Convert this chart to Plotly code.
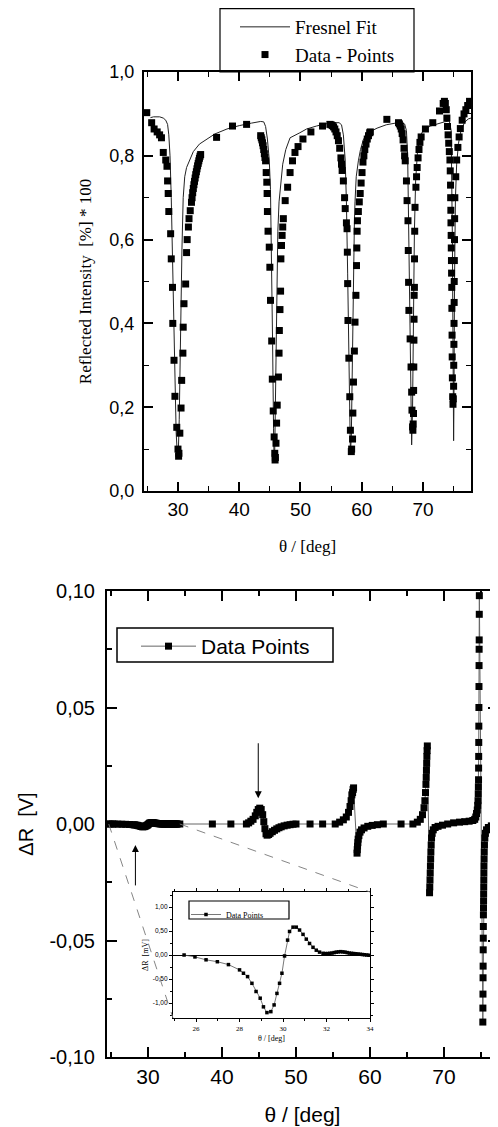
import plotly.graph_objects as go

# ---------------- data: top panel (reflectivity) ----------------
theta_dip1 = [24.9, 25.7, 26.1, 26.6, 27.0, 27.3, 27.6, 28.0, 28.2, 28.3, 28.4, 28.5, 28.8, 28.9, 29.1,
              29.15, 29.35, 29.5, 29.8, 30.0, 30.1, 30.15, 30.3, 30.5, 30.6, 30.8, 30.85, 30.98, 31.25,
              31.4, 31.5, 31.7, 31.8, 32.0, 32.2, 32.3, 32.4, 32.5, 32.6, 32.7, 32.8, 32.9, 33.0, 33.1,
              33.2, 33.3, 33.4, 33.5, 33.6, 33.7]
R_dip1 = [0.903, 0.879, 0.864, 0.857, 0.850, 0.843, 0.808, 0.790, 0.775, 0.740, 0.710, 0.667, 0.614, 0.554,
          0.486, 0.400, 0.312, 0.226, 0.152, 0.100, 0.083, 0.090, 0.138, 0.198, 0.264, 0.329, 0.391, 0.447,
          0.494, 0.569, 0.600, 0.630, 0.650, 0.669, 0.689, 0.700, 0.712, 0.722, 0.731, 0.739, 0.747, 0.755,
          0.762, 0.769, 0.776, 0.782, 0.788, 0.794, 0.799, 0.803]

theta_plateau1 = [36.3, 38.9, 41.2]
R_plateau1 = [0.844, 0.871, 0.875]

theta_dip2 = [43.5, 43.6, 43.7, 43.8, 43.9, 44.0, 44.1, 44.2, 44.3, 44.4, 44.5, 44.55, 44.6, 44.7, 44.9,
              45.0, 45.1, 45.3, 45.4, 45.55, 45.7, 45.8, 45.85, 45.9, 46.0, 46.1, 46.2, 46.4, 46.5, 46.55,
              46.65, 46.75, 46.8, 46.9, 47.0, 47.1, 47.2, 47.5, 47.9, 48.3, 48.7, 49.1, 49.6, 50.4, 51.7, 53.6]
R_dip2 = [0.848, 0.843, 0.838, 0.831, 0.824, 0.815, 0.805, 0.796, 0.788, 0.760, 0.737, 0.710, 0.667, 0.620,
          0.582, 0.534, 0.455, 0.358, 0.267, 0.191, 0.129, 0.090, 0.074, 0.080, 0.114, 0.162, 0.205, 0.272,
          0.329, 0.383, 0.433, 0.477, 0.554, 0.586, 0.610, 0.630, 0.650, 0.693, 0.725, 0.760, 0.788, 0.808,
          0.822, 0.840, 0.857, 0.871]

theta_dip3 = [54.8, 55.0, 55.2, 55.4, 55.6, 55.8, 56.0, 56.2, 56.4, 56.6, 56.7, 56.8, 57.0, 57.2, 57.3,
              57.5, 57.6, 57.65, 57.7, 57.75, 57.9, 58.05, 58.15, 58.3, 58.35, 58.5, 58.55, 58.65, 58.8,
              58.9, 59.05, 59.15, 59.2, 59.25, 59.3, 59.45, 59.6, 59.75, 59.9, 60.05, 60.2, 60.35, 60.5,
              60.7, 60.9, 61.1, 61.3, 61.4]
R_dip3 = [0.875, 0.874, 0.872, 0.869, 0.864, 0.857, 0.848, 0.836, 0.818, 0.795, 0.780, 0.765, 0.740, 0.700,
          0.674, 0.640, 0.626, 0.570, 0.495, 0.407, 0.317, 0.225, 0.145, 0.094, 0.100, 0.124, 0.186, 0.260,
          0.334, 0.403, 0.467, 0.538, 0.580, 0.620, 0.645, 0.667, 0.690, 0.710, 0.735, 0.760, 0.785, 0.800,
          0.815, 0.828, 0.840, 0.848, 0.855, 0.857]

theta_plateau2 = [64.1]
R_plateau2 = [0.887]

theta_dip4 = [66.0, 66.15, 66.3, 66.45, 66.6, 66.75, 66.9, 67.0, 67.1, 67.3, 67.4, 67.55, 67.6, 67.65,
              67.7, 67.9, 68.05, 68.15, 68.2, 68.3, 68.35, 68.4, 68.45, 68.47, 68.5, 68.52, 68.54, 68.56,
              68.6, 68.62, 68.65, 68.7, 68.85, 68.95, 69.05, 69.2, 69.35, 69.5, 69.7]
R_dip4 = [0.879, 0.876, 0.871, 0.864, 0.853, 0.838, 0.818, 0.800, 0.788, 0.740, 0.693, 0.645, 0.574, 0.498,
          0.431, 0.363, 0.296, 0.236, 0.193, 0.153, 0.145, 0.160, 0.185, 0.240, 0.296, 0.360, 0.410, 0.467,
          0.486, 0.554, 0.620, 0.677, 0.725, 0.750, 0.772, 0.795, 0.815, 0.832, 0.845]

theta_plateau3 = [70.4, 71.6, 72.7]
R_plateau3 = [0.864, 0.879, 0.907]

theta_dip5 = [73.3, 73.5, 73.65, 73.8, 73.9, 74.0, 74.1, 74.2, 74.3, 74.4, 74.45, 74.5, 74.52, 74.55,
              74.57, 74.6, 74.62, 74.65, 74.67, 74.7, 74.72, 74.75, 74.77, 74.8, 74.85, 74.9, 74.95, 75.0,
              75.02, 75.05, 75.07, 75.09, 75.1, 75.12, 75.15, 75.17, 75.2, 75.35, 75.5, 75.7, 75.9, 76.1,
              76.4, 76.7, 77.0, 77.3, 77.6]
R_dip5 = [0.925, 0.930, 0.925, 0.910, 0.890, 0.870, 0.850, 0.830, 0.810, 0.790, 0.764, 0.730, 0.700, 0.670,
          0.640, 0.610, 0.580, 0.550, 0.520, 0.486, 0.436, 0.372, 0.320, 0.270, 0.225, 0.207, 0.220, 0.250,
          0.300, 0.350, 0.400, 0.450, 0.500, 0.550, 0.600, 0.650, 0.700, 0.750, 0.790, 0.820, 0.845, 0.865,
          0.885, 0.900, 0.910, 0.920, 0.930]

theta_fit = [25.5, 26.0, 27.0, 27.6, 28.0, 28.3, 28.5, 28.7, 28.9, 29.1, 29.3, 29.5, 29.7, 29.9, 30.05,
             30.2, 30.35, 30.5, 30.65, 30.85, 31.1, 31.4, 32.0, 32.5, 33.5, 34.7, 36.0, 38.0, 40.0, 42.0,
             43.5, 44.0, 44.3, 44.6, 44.9, 45.1, 45.3, 45.45, 45.6, 45.7, 45.8, 45.95, 46.1, 46.3, 46.5,
             46.8, 47.1, 47.6, 48.3, 49.9, 51.0, 52.6, 54.0, 55.4, 56.3, 56.7, 57.0, 57.3, 57.5, 57.7,
             57.85, 58.0, 58.15, 58.3, 58.45, 58.6, 58.8, 58.9, 59.1, 59.45, 59.8, 60.3, 61.3, 62.5, 64.0,
             65.5, 66.5, 67.0, 67.3, 67.5, 67.7, 67.9, 68.05, 68.15, 68.3, 68.45, 68.6, 68.8, 69.1, 69.5,
             70.0, 71.2, 72.5, 73.5, 74.3, 74.6, 74.8, 74.95, 75.0, 75.05, 75.15, 75.3, 75.5, 75.8, 76.2,
             76.8, 77.4, 77.84]
R_fit = [0.891, 0.893, 0.893, 0.890, 0.885, 0.875, 0.850, 0.800, 0.700, 0.550, 0.400, 0.250, 0.140, 0.085,
         0.090, 0.170, 0.330, 0.460, 0.580, 0.700, 0.750, 0.772, 0.795, 0.810, 0.828, 0.840, 0.852, 0.864,
         0.872, 0.878, 0.882, 0.881, 0.870, 0.840, 0.790, 0.720, 0.550, 0.350, 0.150, 0.070, 0.100, 0.250,
         0.450, 0.620, 0.690, 0.745, 0.780, 0.815, 0.843, 0.855, 0.864, 0.871, 0.876, 0.879, 0.879, 0.874,
         0.850, 0.790, 0.690, 0.520, 0.350, 0.180, 0.090, 0.130, 0.300, 0.500, 0.640, 0.690, 0.750, 0.788,
         0.815, 0.840, 0.857, 0.866, 0.874, 0.878, 0.879, 0.876, 0.860, 0.800, 0.620, 0.400, 0.200, 0.110,
         0.200, 0.420, 0.620, 0.740, 0.810, 0.845, 0.860, 0.871, 0.877, 0.881, 0.883, 0.860, 0.600, 0.200,
         0.120, 0.200, 0.500, 0.700, 0.780, 0.830, 0.860, 0.880, 0.888, 0.890]

# ---------------- data: bottom panel (delta R, volts) ----------------
theta_lead = [24.6, 24.9, 25.2]
dR_lead = [0.0, 0.0, 0.0]

# inset data (mV), also the 25-34 deg part of the main curve
inset_theta = [25.45, 25.95, 26.46, 26.98, 27.49, 28.0, 28.18, 28.37, 28.57, 28.76, 28.95, 29.10, 29.26,
               29.44, 29.59, 29.72, 29.84, 29.95, 30.07, 30.21, 30.30, 30.46, 30.61, 30.76, 30.92, 31.07,
               31.22, 31.38, 31.53, 31.68, 31.84, 31.95, 32.05, 32.15, 32.25, 32.35, 32.45, 32.55, 32.65,
               32.75, 32.85, 32.95, 33.05, 33.15, 33.25, 33.35, 33.45, 33.55, 33.65, 33.75, 33.85, 33.95]
inset_dR_mV = [0.00, -0.04, -0.10, -0.14, -0.20, -0.31, -0.38, -0.45, -0.59, -0.76, -0.90, -1.08, -1.20,
               -1.18, -1.04, -0.80, -0.59, -0.38, -0.02, 0.31, 0.49, 0.58, 0.58, 0.52, 0.43, 0.33, 0.24,
               0.16, 0.10, 0.06, 0.035, 0.03, 0.03, 0.035, 0.04, 0.05, 0.06, 0.065, 0.07, 0.065, 0.06,
               0.05, 0.04, 0.035, 0.03, 0.025, 0.02, 0.015, 0.01, 0.005, 0.0, -0.005]

theta_b1 = [34.3, 38.7, 41.2, 43.3, 43.6, 43.9, 44.2, 44.5, 44.7, 44.9, 45.1, 45.3, 45.5, 45.65, 45.8,
            45.95, 46.1, 46.3, 46.5, 46.8, 47.1, 47.4, 47.7, 48.0, 48.4, 48.8, 49.2, 49.6, 50.0, 51.9, 53.6]
dR_b1 = [0.0, 0.0, 0.0, 0.0, 0.0005, 0.0012, 0.002, 0.0035, 0.005, 0.0062, 0.0068, 0.0062, 0.004, 0.001,
         -0.002, -0.0042, -0.0048, -0.0045, -0.004, -0.0033, -0.0027, -0.0021, -0.0016, -0.0012, -0.0008,
         -0.0005, -0.0003, -0.0001, 0.0, 0.0, 0.0]

theta_b2 = [55.3, 55.9, 56.4, 56.8, 57.1, 57.3, 57.45, 57.55, 57.65, 57.72, 57.78, 58.25, 58.28, 58.32,
            58.36, 58.4, 58.5, 58.65, 58.85, 59.2, 59.7, 60.3, 61.0, 61.8, 64.2]
dR_b2 = [0.0, 0.0008, 0.0018, 0.003, 0.005, 0.0075, 0.01, 0.0125, 0.0135, 0.0148, 0.0155, -0.0125, -0.011,
         -0.0095, -0.008, -0.0065, -0.005, -0.0035, -0.0025, -0.0017, -0.001, -0.0006, -0.0003, 0.0, 0.0]

theta_b3 = [65.8, 66.4, 66.8, 67.1, 67.3, 67.42, 67.5, 67.56, 67.6, 67.63, 67.66, 67.69, 67.72, 67.75,
            68.05, 68.08, 68.11, 68.14, 68.17, 68.2, 68.23, 68.27, 68.32, 68.4, 68.55, 68.8, 69.2, 69.8,
            70.5, 71.3, 72.1, 72.8, 73.4, 73.9, 74.15, 74.3, 74.4]
dR_b3 = [0.0, 0.0008, 0.002, 0.004, 0.007, 0.01, 0.0135, 0.017, 0.020, 0.023, 0.026, 0.029, 0.0315, 0.0335,
         -0.0295, -0.027, -0.024, -0.021, -0.018, -0.015, -0.012, -0.009, -0.006, -0.004, -0.0025, -0.0015,
         -0.001, -0.0005, 0.0, 0.0005, 0.0008, 0.001, 0.0012, 0.0015, 0.002, 0.003, 0.0045]

theta_b4 = [74.5, 74.56, 74.6, 74.63, 74.65, 74.67, 74.68, 74.69, 74.7, 74.71, 74.72, 74.73, 74.74, 74.75,
            74.76, 74.77, 74.78, 75.25, 75.26, 75.27, 75.28, 75.29, 75.3, 75.31, 75.32, 75.33, 75.34, 75.35,
            75.36, 75.37, 75.38, 75.39, 75.4, 75.42, 75.44, 75.47, 75.52, 75.6, 75.75, 76.0, 76.4, 76.9, 77.3]
dR_b4 = [0.006, 0.008, 0.010, 0.013, 0.016, 0.019, 0.024, 0.029, 0.035, 0.042, 0.050, 0.059, 0.068, 0.075,
         0.079, 0.090, 0.098, -0.085, -0.079, -0.073, -0.066, -0.061, -0.054, -0.049, -0.044, -0.039,
         -0.036, -0.033, -0.030, -0.027, -0.024, -0.021, -0.018, -0.015, -0.012, -0.009, -0.006, -0.004,
         -0.0025, -0.0015, -0.0008, -0.0003, 0.0]

# tick labels
top_x_ticks = [30, 40, 50, 60, 70]
top_y_ticks = [0.0, 0.2, 0.4, 0.6, 0.8, 1.0]
top_y_text = ["0,0", "0,2", "0,4", "0,6", "0,8", "1,0"]
bot_x_ticks = [30, 40, 50, 60, 70]
bot_y_ticks = [-0.10, -0.05, 0.0, 0.05, 0.10]
bot_y_text = ["-0,10", "-0,05", "0,00", "0,05", "0,10"]
ins_x_ticks = [26, 28, 30, 32, 34]
ins_y_ticks = [-1.0, -0.5, 0.0, 0.5, 1.0]
ins_y_text = ["-1,00", "-0,50", "0,00", "0,50", "1,00"]

# ---------------- assemble ----------------
segs_top = [(theta_dip1, R_dip1), (theta_plateau1, R_plateau1), (theta_dip2, R_dip2),
            (theta_dip3, R_dip3), (theta_plateau2, R_plateau2), (theta_dip4, R_dip4),
            (theta_plateau3, R_plateau3), (theta_dip5, R_dip5)]
theta_top, R_top = [], []
for t, r in segs_top:
    assert len(t) == len(r), (len(t), len(r))
    theta_top += t
    R_top += r
assert len(theta_fit) == len(R_fit)
assert len(inset_theta) == len(inset_dR_mV)

theta_main = list(theta_lead) + list(inset_theta)
dR_main = list(dR_lead) + [v / 1000.0 for v in inset_dR_mV]
for t, r in [(theta_b1, dR_b1), (theta_b2, dR_b2), (theta_b3, dR_b3), (theta_b4, dR_b4)]:
    assert len(t) == len(r), (len(t), len(r))
    theta_main += t
    dR_main += r

# The page body adds an 8px margin, so the figure is laid out in window pixels minus OFF.
OFF = 8
W, H = 498 - OFF, 1127 - OFF
SERIF = "Liberation Serif"
SANS = "Liberation Sans"

def fx(px):
    return (px - OFF) / W

def fy(py):
    return min(1.0, 1 - (py - OFF) / H)

def xdom(l, r):
    return [fx(l), min(1.0, fx(r))]

def ydom(top, bottom):
    return [fy(bottom), fy(top)]

top_xr = [24.45, 77.84]
bot_xr = [24.46, 77.30]
bot_yr = [-0.10, 0.10]
ins_xr = [24.94, 34.0]
ins_yr = [-1.3125, 1.3125]

top_xd, top_yd = xdom(144, 471), ydom(72, 491)
bot_xd, bot_yd = xdom(107, 498), ydom(591, 1057)
ins_xd, ins_yd = xdom(173, 370), ydom(892, 1018)

fig = go.Figure()
fig.add_trace(go.Scatter(x=theta_fit, y=R_fit, mode="lines", name="Fresnel Fit",
                         line=dict(color="#222222", width=1), xaxis="x", yaxis="y", legend="legend"))
fig.add_trace(go.Scatter(x=theta_top, y=R_top, mode="markers", name="Data - Points",
                         marker=dict(symbol="square", size=7, color="black", line=dict(width=0)),
                         xaxis="x", yaxis="y", legend="legend"))
fig.add_trace(go.Scatter(x=theta_main, y=dR_main, mode="lines+markers", name="Data Points",
                         line=dict(color="#666666", width=1),
                         marker=dict(symbol="square", size=7, color="black", line=dict(width=0)),
                         xaxis="x2", yaxis="y2", legend="legend2"))
fig.add_trace(go.Scatter(x=inset_theta, y=inset_dR_mV, mode="lines+markers", name="Data Points",
                         line=dict(color="#555555", width=0.8),
                         marker=dict(symbol="square", size=3.5, color="black", line=dict(width=0)),
                         xaxis="x3", yaxis="y3", legend="legend3"))

def ax(**kw):
    d = dict(showgrid=False, zeroline=False, showline=True, linecolor="black", ticks="inside",
             tickcolor="black", mirror="ticks")
    d.update(kw)
    return d

fig.update_layout(
    width=W, height=H, autosize=False,
    margin=dict(l=0, r=0, t=0, b=0, autoexpand=False),
    paper_bgcolor="white", plot_bgcolor="white",
    xaxis=ax(domain=top_xd, anchor="y", range=top_xr, tickvals=top_x_ticks,
             ticklen=9, tickwidth=1.5, linewidth=2,
             minor=dict(tickvals=[25, 35, 45, 55, 65, 75], ticklen=5, ticks="inside", tickcolor="black", tickwidth=1.2),
             tickfont=dict(family=SANS, size=19, color="black"),
             title=dict(text="θ / [deg]", font=dict(family=SERIF, size=17, color="black"), standoff=21)),
    yaxis=ax(domain=top_yd, anchor="x", range=[0, 1.0], tickvals=top_y_ticks, ticktext=top_y_text,
             ticklen=9, tickwidth=1.5, linewidth=2,
             minor=dict(tickvals=[0.1, 0.3, 0.5, 0.7, 0.9], ticklen=5, ticks="inside", tickcolor="black", tickwidth=1.2),
             tickfont=dict(family=SANS, size=18, color="black"), ticklabelstandoff=4,
             title=dict(text="Reflected Intensity\u00a0 [%] * 100", font=dict(family=SERIF, size=17, color="black"),
                        standoff=13)),
    xaxis2=ax(domain=bot_xd, anchor="y2", range=bot_xr, tickvals=bot_x_ticks,
              ticklen=10, tickwidth=2, linewidth=2,
              minor=dict(tickvals=[25, 35, 45, 55, 65, 75], ticklen=5, ticks="inside", tickcolor="black", tickwidth=1.5),
              tickfont=dict(family=SANS, size=21, color="black"),
              title=dict(text="θ / [deg]", font=dict(family=SANS, size=21, color="black"), standoff=20)),
    yaxis2=ax(domain=bot_yd, anchor="x2", range=bot_yr, tickvals=bot_y_ticks, ticktext=bot_y_text,
              ticklen=10, tickwidth=2, linewidth=2,
              minor=dict(tickvals=[-0.075, -0.025, 0.025, 0.075], ticklen=5, ticks="inside", tickcolor="black", tickwidth=1.5),
              tickfont=dict(family=SANS, size=20, color="black"), ticklabelstandoff=6,
              title=dict(text="ΔR\u00a0 [V]", font=dict(family=SANS, size=20, color="black"), standoff=10)),
    xaxis3=ax(domain=ins_xd, anchor="y3", range=ins_xr, tickvals=ins_x_ticks,
              ticklen=3, tickwidth=1, linewidth=1.2, ticks="outside",
              minor=dict(tickvals=[25, 27, 29, 31, 33], ticklen=2, ticks="outside", tickcolor="black"),
              tickfont=dict(family=SERIF, size=7, color="black"),
              title=dict(text="θ / [deg]", font=dict(family=SERIF, size=8, color="black"), standoff=3)),
    yaxis3=ax(domain=ins_yd, anchor="x3", range=ins_yr, tickvals=ins_y_ticks, ticktext=ins_y_text,
              ticklen=3, tickwidth=1, linewidth=1.2, ticks="outside",
              minor=dict(tickvals=[-1.25, -0.75, -0.25, 0.25, 0.75, 1.25], ticklen=2, ticks="outside", tickcolor="black"),
              zeroline=True, zerolinecolor="black", zerolinewidth=1,
              tickfont=dict(family=SANS, size=6.5, color="black"),
              title=dict(text="ΔR\u00a0 [mV]", font=dict(family=SERIF, size=8, color="black"), standoff=2)),
    legend=dict(x=fx(235), y=fy(5), xanchor="left", yanchor="top", bgcolor="rgba(0,0,0,0)",
                borderwidth=0, itemwidth=50,
                font=dict(family=SERIF, size=19, color="black")),
    legend2=dict(x=fx(136), y=fy(626), xanchor="left", yanchor="top", bgcolor="rgba(0,0,0,0)",
                 borderwidth=0, itemwidth=55,
                 font=dict(family=SANS, size=21, color="black")),
    legend3=dict(x=fx(186), y=fy(900), xanchor="left", yanchor="top", bgcolor="rgba(0,0,0,0)",
                 borderwidth=0, itemwidth=30,
                 font=dict(family=SERIF, size=8, color="black")),
)

# legend frames (window-pixel boxes of the reference legends)
legend_boxes = [((220, 8.6, 414, 72), 1.2), ((117, 628, 333, 662), 1.5), ((189, 901, 289, 919), 1.2)]
for (l, t, r, b), w in legend_boxes:
    fig.add_shape(type="rect", xref="paper", yref="paper", x0=fx(l), x1=fx(r), y0=fy(b), y1=fy(t),
                  line=dict(color="black", width=w), fillcolor="rgba(0,0,0,0)", layer="above")

# zoom connector lines (main panel -> inset), in main-axis coordinates
def px_to_x2(px):
    return bot_xr[0] + (px - 107) / (498 - 107) * (bot_xr[1] - bot_xr[0])

def py_to_y2(py):
    return bot_yr[1] - (py - 591) / (1057 - 591) * (bot_yr[1] - bot_yr[0])

conn = [((24.7, 0.0), (px_to_x2(173), py_to_y2(1018))),
        ((34.3, 0.0), (px_to_x2(370), py_to_y2(892)))]
for (x0, y0), (x1, y1) in conn:
    fig.add_shape(type="line", xref="x2", yref="y2", x0=x0, y0=y0, x1=x1, y1=y1,
                  line=dict(color="#777777", width=0.9, dash="dash"))

# arrows
fig.add_annotation(x=44.9, y=0.011, ax=44.9, ay=0.0353, xref="x2", yref="y2", axref="x2", ayref="y2",
                   text="", showarrow=True, arrowhead=2, arrowsize=1.4, arrowwidth=1, arrowcolor="black")
fig.add_annotation(x=28.3, y=-0.009, ax=28.3, ay=-0.027, xref="x2", yref="y2", axref="x2", ayref="y2",
                   text="", showarrow=True, arrowhead=2, arrowsize=1.4, arrowwidth=1, arrowcolor="black")

fig.write_html("out.html")
